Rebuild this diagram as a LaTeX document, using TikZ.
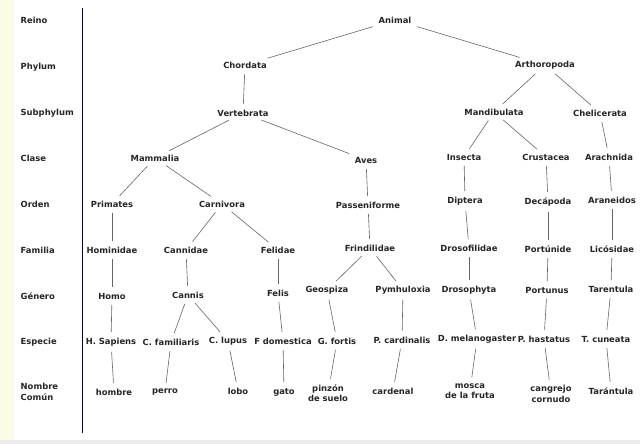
\documentclass[tikz,border=0pt]{standalone}
\usepackage{fontspec}
\setmainfont{DejaVu Sans}
\begin{document}
\begin{tikzpicture}[x=1pt,y=-1pt,
 every node/.style={font=\bfseries\fontsize{8.4}{10.5}\selectfont,inner sep=2.5pt,align=center,text=black!85},
 lab/.style={anchor=west,align=left},
 ln/.style={draw=black!60,line width=0.6pt,shorten >=3pt,shorten <=3pt}]
\useasboundingbox (0,0) rectangle (640,444);
\fill[white] (0,0) rectangle (640,444);
\fill[black!12!yellow!10!white] (0,0) rectangle (14,444);
\fill[black!8] (0,440) rectangle (640,444);
\draw[draw=blue!30!black,line width=0.8pt] (82,8) -- (82,433);
\foreach \t/\y in {Reino/20,Phylum/67,Subphylum/113,Clase/158,Orden/204,Familia/250,Género/296,Especie/342}
  \node[lab] at (18,\y) {\t};
\node[lab] at (18,392) {Nombre\\Común};
% nodes
\node (an) at (395,20) {Animal};
\node (ch) at (245,65) {Chordata};
\node (ar) at (545,65) {Arthoropoda};
\node (ve) at (243,113) {Vertebrata};
\node (ma) at (494,112) {Mandibulata};
\node (ce) at (600,113) {Chelicerata};
\node (mm) at (155,158) {Mammalia};
\node (av) at (366,160) {Aves};
\node (in) at (464,157) {Insecta};
\node (cr) at (546,157) {Crustacea};
\node (ac) at (609,157) {Arachnida};
\node (pr) at (112,204) {Primates};
\node (ca) at (222,204) {Carnivora};
\node (pa) at (368,205) {Passeniforme};
\node (di) at (465,201) {Diptera};
\node (de) at (548,202) {Decápoda};
\node (aa) at (612,200) {Araneidos};
\node (ho) at (112,250) {Hominidae};
\node (cn) at (186,250) {Cannidae};
\node (fe) at (278,250) {Felidae};
\node (fr) at (370,248) {Frindilidae};
\node (dr) at (469,248) {Drosofilidae};
\node (po) at (548,249) {Portúnide};
\node (li) at (612,249) {Licósidae};
\node (hm) at (112,296) {Homo};
\node (cs) at (188,295) {Cannis};
\node (fl) at (278,293) {Felis};
\node (ge) at (327,290) {Geospiza};
\node (py) at (403,290) {Pymhuloxia};
\node (ds) at (469,290) {Drosophyta};
\node (pt) at (547,290) {Portunus};
\node (ta) at (611,289) {Tarentula};
\node (hs) at (111,342) {H. Sapiens};
\node (cf) at (171,342) {C. familiaris};
\node (cl) at (228,341) {C. lupus};
\node (fd) at (283,341) {F domestica};
\node (gf) at (337,341) {G. fortis};
\node (pc) at (402,340) {P. cardinalis};
\node (dm) at (477,339) {D. melanogaster};
\node (ph) at (544,339) {P. hastatus};
\node (tc) at (606,339) {T. cuneata};
\node (n1) at (114,392) {hombre};
\node (n2) at (165,392) {perro};
\node (n3) at (238,391) {lobo};
\node (n4) at (284,392) {gato};
\node (n5) at (328,393) {pinzón\\de suelo};
\node (n6) at (393,391) {cardenal};
\node (n7) at (470,391) {mosca\\de la fruta};
\node (n8) at (551,394) {cangrejo\\cornudo};
\node (n9) at (611,391) {Tarántula};
% edges
\foreach \a/\b in {an/ch,an/ar,ch/ve,ar/ma,ar/ce,ve/mm,ve/av,ma/in,ma/cr,ce/ac,
 mm/pr,mm/ca,av/pa,in/di,cr/de,ac/aa,
 pr/ho,ca/cn,ca/fe,pa/fr,di/dr,de/po,aa/li,
 ho/hm,cn/cs,fe/fl,fr/ge,fr/py,dr/ds,po/pt,li/ta,
 hm/hs,cs/cf,cs/cl,fl/fd,ge/gf,py/pc,ds/dm,pt/ph,ta/tc,
 hs/n1,cf/n2,cl/n3,fd/n4,gf/n5,pc/n6,dm/n7,ph/n8,tc/n9}
  \draw[ln] (\a) -- (\b);
\end{tikzpicture}
\end{document}
